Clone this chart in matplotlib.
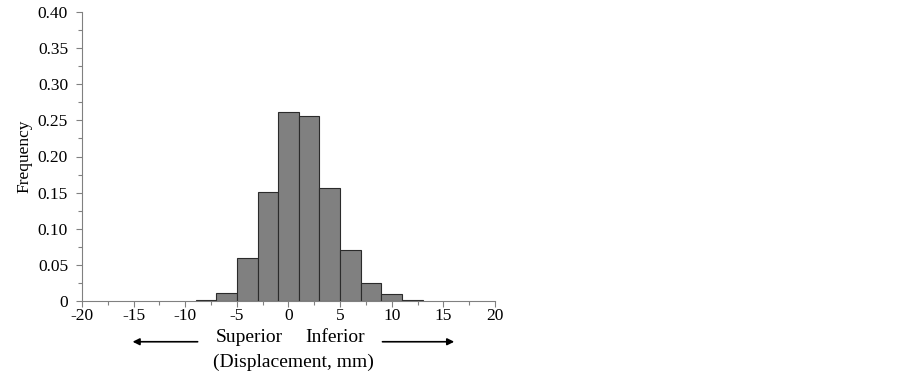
import matplotlib
matplotlib.use("Agg")
import matplotlib.pyplot as plt
from matplotlib.ticker import MultipleLocator, FuncFormatter

plt.rcParams['font.family'] = ['Liberation Serif', 'DejaVu Serif']
plt.rcParams['axes.unicode_minus'] = False

# histogram bins (mm) and frequencies
bin_left = [-9, -7, -5, -3, -1, 1, 3, 5, 7, 9, 11]
freq = [0.002, 0.011, 0.060, 0.151, 0.262, 0.256, 0.156, 0.071, 0.025, 0.010, 0.002]
bin_width = 2
xticks = [-20, -15, -10, -5, 0, 5, 10, 15, 20]

fig = plt.figure(figsize=(9.03, 3.81), dpi=100)
ax = fig.add_axes([82/903, 1 - 301/381, (495-82)/903, (301-12)/381])

ax.bar(bin_left, freq, width=bin_width, align='edge',
       color='#808080', edgecolor='#2b2b2b', linewidth=0.8)

ax.set_xlim(-20, 20)
ax.set_ylim(0, 0.40)
ax.set_xticks(xticks)
ax.xaxis.set_minor_locator(MultipleLocator(2.5))
ax.yaxis.set_major_locator(MultipleLocator(0.05))
ax.yaxis.set_minor_locator(MultipleLocator(0.025))
ax.yaxis.set_major_formatter(FuncFormatter(lambda v, p: '0' if abs(v) < 1e-9 else f'{v:.2f}'))

for s in ['top', 'right']:
    ax.spines[s].set_visible(False)
for s in ['left', 'bottom']:
    ax.spines[s].set_color('#808080')
    ax.spines[s].set_linewidth(0.8)
ax.tick_params(which='both', direction='out', color='#808080', width=0.8)
ax.tick_params(which='major', length=4, labelsize=12.5)
ax.tick_params(axis='x', which='major', pad=1)
ax.tick_params(axis='y', which='major', pad=6)
ax.tick_params(which='minor', length=3)

ax.set_ylabel('Frequency', fontsize=12.5, labelpad=4)

# direction annotations under the x axis (x in data, y in axes fraction)
tr = ax.get_xaxis_transform()
ax.text(-3.8, -0.128, 'Superior', ha='center', va='center', fontsize=14, transform=tr, clip_on=False)
ax.text(4.5, -0.128, 'Inferior', ha='center', va='center', fontsize=14, transform=tr, clip_on=False)
ax.text(0.5, -0.211, '(Displacement, mm)', ha='center', va='center', fontsize=14, transform=tr, clip_on=False)
ax.annotate('', xy=(-15.1, -0.141), xytext=(-8.8, -0.141), xycoords=tr, textcoords=tr,
            annotation_clip=False,
            arrowprops=dict(arrowstyle='-|>', color='black', lw=1.2, mutation_scale=10, shrinkA=0, shrinkB=0))
ax.annotate('', xy=(16.05, -0.141), xytext=(9.1, -0.141), xycoords=tr, textcoords=tr,
            annotation_clip=False,
            arrowprops=dict(arrowstyle='-|>', color='black', lw=1.2, mutation_scale=10, shrinkA=0, shrinkB=0))

fig.savefig('out.png', dpi=100)
